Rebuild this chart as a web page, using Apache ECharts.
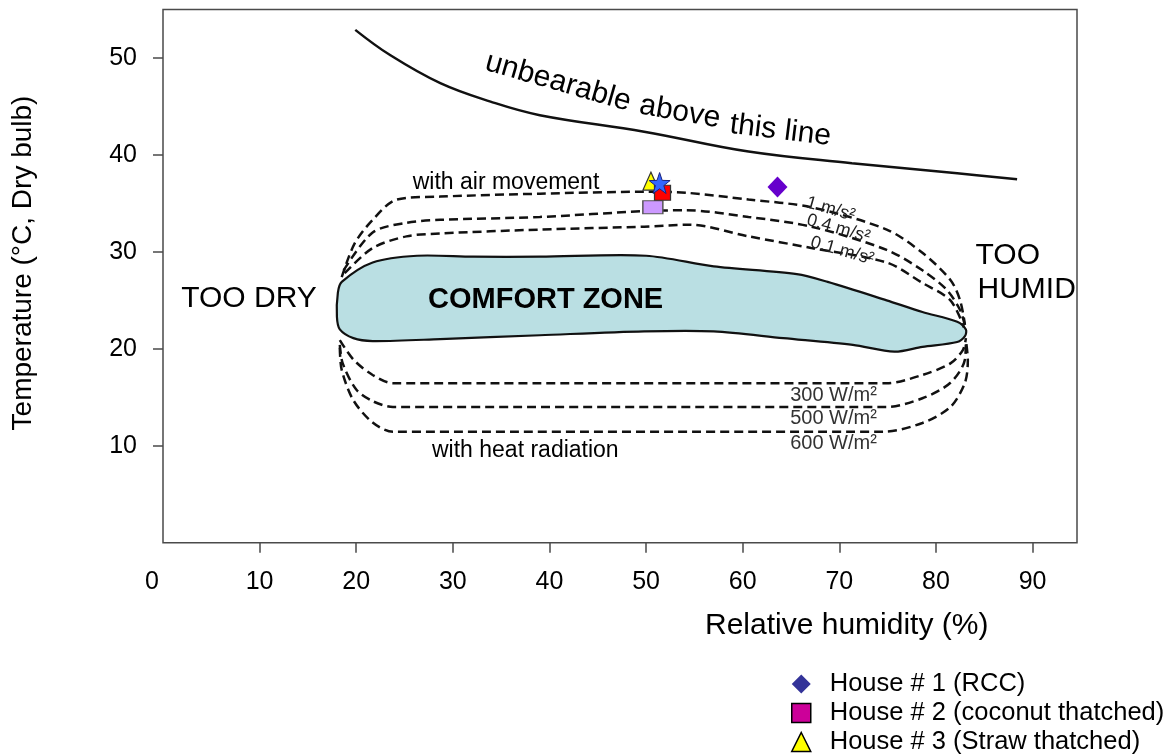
<!DOCTYPE html>
<html>
<head>
<meta charset="utf-8">
<script src="https://cdn.jsdelivr.net/npm/echarts@6/dist/echarts.min.js"></script>
<style>
html,body{margin:0;padding:0;background:#fff;}
#chart{width:1171px;height:755px;}
</style>
</head>
<body>
<div id="chart"></div>
<script>
// ---- tick labels ----
const xTicks = [0, 10, 20, 30, 40, 50, 60, 70, 80, 90];
const yTicks = [10, 20, 30, 40, 50];

// ---- "unbearable" limit line ----
const unbearX = [19.9, 23.5, 28.7, 33.9, 39.0, 49.8, 60.6, 71.3, 82.2, 88.4];
const unbearY = [52.9, 50.3, 47.4, 45.5, 44.1, 42.4, 40.35, 39.15, 38.1, 37.5];

// ---- comfort zone outline (closed) ----
const comfortX = [18.5, 21.7, 26.3, 32.1, 39.0, 50.0, 57.0, 65.6, 68.8, 74.9, 78.6, 82.2, 83.1,
                  83.0, 82.2, 78.6, 75.7, 71.4, 64.2, 57.0, 49.8, 39.0, 28.7, 21.7, 19.7, 18.3, 18.0, 18.1];
const comfortY = [26.9, 28.9, 29.6, 29.5, 29.5, 29.6, 28.5, 27.7, 26.9, 25.0, 23.8, 22.8, 22.0,
                  21.3, 20.7, 20.2, 19.7, 20.4, 21.1, 21.8, 21.8, 21.4, 21.0, 20.8, 21.1, 22.0, 23.3, 25.8];

// ---- air movement limits ----
const air1X = [18.5, 19.8, 21.7, 24.2, 28.7, 39.0, 49.8, 54.1, 60.6, 67.1, 74.9, 78.6, 81.5, 82.5, 83.0];
const air1Y = [27.4, 30.8, 33.3, 35.4, 35.7, 36.0, 36.2, 36.1, 35.4, 34.6, 32.3, 29.9, 27.1, 25.0, 22.5];
const air2X = [18.7, 21.7, 25.2, 28.7, 39.0, 49.8, 54.1, 60.6, 67.1, 74.9, 78.6, 81.1, 82.5, 83.0];
const air2Y = [28.1, 32.0, 33.0, 33.3, 33.6, 34.2, 34.3, 33.6, 32.6, 30.2, 28.1, 26.1, 24.0, 22.4];
const air3X = [18.8, 21.7, 25.2, 28.7, 39.0, 49.8, 54.5, 60.6, 67.1, 74.9, 78.6, 81.5, 82.9];
const air3Y = [27.8, 30.4, 31.6, 31.9, 32.3, 32.6, 32.8, 31.6, 30.4, 28.9, 26.8, 25.0, 22.2];

// ---- heat radiation limits ----
const rad300X = [18.3, 19.7, 21.7, 23.8, 39.0, 74.9, 78.6, 81.5, 82.8, 83.1];
const rad300Y = [20.9, 18.9, 17.3, 16.45, 16.45, 16.45, 17.3, 18.5, 19.9, 21.1];
const rad500X = [18.3, 18.6, 20.0, 21.7, 23.8, 74.9, 78.6, 81.5, 83.0, 83.1];
const rad500Y = [20.4, 18.5, 15.8, 14.6, 14.0, 14.0, 14.9, 16.5, 18.9, 20.9];
const rad600X = [18.3, 18.5, 19.7, 21.7, 23.8, 74.6, 78.6, 81.5, 83.0, 83.3, 83.1];
const rad600Y = [20.1, 17.8, 14.7, 12.4, 11.45, 11.45, 12.35, 14.0, 16.5, 18.8, 20.9];

// ---- measured points (RH %, Temp °C) ----
const house1 = [63.6, 36.7];
const house2 = [51.7, 36.1];
const house3 = [50.5, 37.3];
const starPt = [51.4, 37.1];
const lavPt  = [50.7, 34.6];

// ---- legend names ----
const legendNames = ['House # 1 (RCC)', 'House # 2 (coconut thatched)', 'House # 3 (Straw thatched)'];

// ---- annotations ----
const annoText = ['unbearable', 'above', 'this line', 'with air movement', 'TOO DRY', 'COMFORT ZONE', 'TOO', 'HUMID',
                  'with heat radiation', '300 W/m²', '500 W/m²', '600 W/m²', '1 m/s²', '0.4 m/s²', '0.1 m/s²'];
const annoX = [40.9, 53.5, 63.9, 35.5, 8.9, 39.6, 84.1, 84.3, 37.5, 69.4, 69.4, 69.4, 69.1, 69.9, 70.3];
const annoY = [47.5, 44.4, 42.5, 37.1, 25.2, 25.0, 29.6, 26.1, 9.5, 15.2, 12.8, 10.2, 34.4, 32.4, 30.1];

// ---- styling (separate from data) ----
const FONT = '"Liberation Sans", Arial, sans-serif';
const annoStyle = {
  'unbearable': {fontSize: 30, rotate: -16},
  'above': {fontSize: 30, rotate: -10},
  'this line': {fontSize: 30, rotate: -7},
  'with air movement': {fontSize: 23},
  'TOO DRY': {fontSize: 30},
  'COMFORT ZONE': {fontSize: 29, fontWeight: 'bold'},
  'TOO': {fontSize: 30, align: 'left'},
  'HUMID': {fontSize: 30, align: 'left'},
  'with heat radiation': {fontSize: 23},
  '300 W/m²': {fontSize: 20, color: '#333'},
  '500 W/m²': {fontSize: 20, color: '#333'},
  '600 W/m²': {fontSize: 20, color: '#333'},
  '1 m/s²': {fontSize: 18, rotate: -16, color: '#222'},
  '0.4 m/s²': {fontSize: 18, rotate: -16, color: '#222'},
  '0.1 m/s²': {fontSize: 18, rotate: -16, color: '#222'}
};

const zip = (xs, ys) => xs.map((x, i) => [x, ys[i]]);
const dashStyle = {color: '#111', width: 2.5, type: [9, 5]};
function dashed(xs, ys) {
  return {type: 'line', data: zip(xs, ys), smooth: 0.3, symbol: 'none', lineStyle: dashStyle, silent: true, z: 3};
}

const chart = echarts.init(document.getElementById('chart'), null, {renderer: 'canvas'});

const annoData = annoText.map((t, i) => {
  const s = annoStyle[t] || {};
  return {
    name: t,
    value: [annoX[i], annoY[i]],
    label: {
      show: true,
      formatter: t,
      position: [0, 0],
      align: s.align || 'center',
      verticalAlign: 'middle',
      rotate: s.rotate || 0,
      fontSize: s.fontSize || 20,
      fontWeight: s.fontWeight || 'normal',
      color: s.color || '#000',
      fontFamily: FONT
    }
  };
});

const star = 'path://M0,-10 L2.35,-3.24 L9.51,-3.09 L3.8,1.24 L5.88,8.09 L0,4 L-5.88,8.09 L-3.8,1.24 L-9.51,-3.09 L-2.35,-3.24 Z';

const option = {
  backgroundColor: '#fff',
  animation: false,
  textStyle: {fontFamily: FONT},
  grid: {left: 163, right: 94, top: 9.5, bottom: 212.3, show: true, borderColor: '#4a4a4a', borderWidth: 1.5},
  xAxis: {
    type: 'value', min: 0, max: 94.6,
    axisLine: {show: false},
    splitLine: {show: false},
    axisTick: {show: true, length: 10, lineStyle: {color: '#4a4a4a', width: 1.5}, customValues: xTicks.slice(1)},
    axisLabel: {
      customValues: xTicks, margin: 27, fontSize: 25, color: '#000', fontFamily: FONT,
      formatter: v => v === 0 ? '{z|0}' : String(v),
      rich: {z: {fontSize: 25, color: '#000', fontFamily: FONT, padding: [0, 22, 0, 0]}}
    }
  },
  yAxis: {
    type: 'value', min: 0, max: 55,
    axisLine: {show: false},
    splitLine: {show: false},
    axisTick: {show: true, length: 10, lineStyle: {color: '#4a4a4a', width: 1.5}, customValues: yTicks},
    axisLabel: {customValues: yTicks, margin: 26, fontSize: 25, color: '#000', fontFamily: FONT}
  },
  legend: {
    orient: 'vertical', left: 791, top: 671, padding: 0, itemWidth: 19, itemHeight: 19, itemGap: 3,
    selectedMode: false,
    textStyle: {fontSize: 25.5, lineHeight: 25.5, color: '#000', fontFamily: FONT, padding: [0, 0, 0, 14]},
    data: [
      {name: legendNames[0], icon: 'diamond', itemStyle: {color: '#333399', borderWidth: 0, opacity: 1}},
      {name: legendNames[1], icon: 'rect', itemStyle: {color: '#CC0099', borderColor: '#000', borderWidth: 1.5, opacity: 1}},
      {name: legendNames[2], icon: 'triangle', itemStyle: {color: '#FFFF00', borderColor: '#000', borderWidth: 1.5, opacity: 1}}
    ]
  },
  graphic: [
    {type: 'text', left: 705, top: 611, style: {text: 'Relative humidity (%)', font: '30px ' + FONT, fill: '#000'}},
    {type: 'text', x: 23, y: 263, rotation: Math.PI / 2, style: {text: 'Temperature (°C, Dry bulb)', font: '28px ' + FONT, fill: '#000', align: 'center', verticalAlign: 'middle'}}
  ],
  series: [
    {
      type: 'custom', name: 'comfort', silent: true, z: 2,
      data: zip(comfortX, comfortY),
      renderItem: function (params, api) {
        if (params.dataIndex !== 0) return null;
        const pts = comfortX.map((x, i) => api.coord([x, comfortY[i]]));
        return {type: 'polygon', shape: {points: pts, smooth: 0.3},
                style: {fill: '#BADFE3', stroke: '#111', lineWidth: 2.2}};
      }
    },
    {type: 'line', data: zip(unbearX, unbearY), smooth: 0.4, symbol: 'none', lineStyle: {color: '#111', width: 2.5}, silent: true, z: 3},
    dashed(air1X, air1Y), dashed(air2X, air2Y), dashed(air3X, air3Y),
    dashed(rad300X, rad300Y), dashed(rad500X, rad500Y), dashed(rad600X, rad600Y),
    {type: 'scatter', data: annoData, symbolSize: 0, itemStyle: {opacity: 1}, silent: true, z: 6},
    {type: 'scatter', data: [lavPt], symbol: 'rect', symbolSize: [20, 13], itemStyle: {color: '#CC99FF', borderColor: '#555', borderWidth: 1.2, opacity: 1}, z: 7},
    {type: 'scatter', name: legendNames[2], data: [house3], symbol: 'triangle', symbolSize: [16, 18], itemStyle: {color: '#FFFF00', borderColor: '#333', borderWidth: 1.2, opacity: 1}, z: 8},
    {type: 'scatter', name: legendNames[1], data: [house2], symbol: 'rect', symbolSize: [16, 15], itemStyle: {color: '#FF0000', borderColor: '#333', borderWidth: 1.2, opacity: 1}, z: 9},
    {type: 'scatter', data: [starPt], symbol: star, symbolSize: 21, itemStyle: {color: '#3366FF', borderColor: '#1a237e', borderWidth: 1, opacity: 1}, z: 10},
    {type: 'scatter', name: legendNames[0], data: [house1], symbol: 'diamond', symbolSize: [20, 21], itemStyle: {color: '#6600CC', opacity: 1}, z: 10}
  ]
};
chart.setOption(option);
</script>
</body>
</html>
